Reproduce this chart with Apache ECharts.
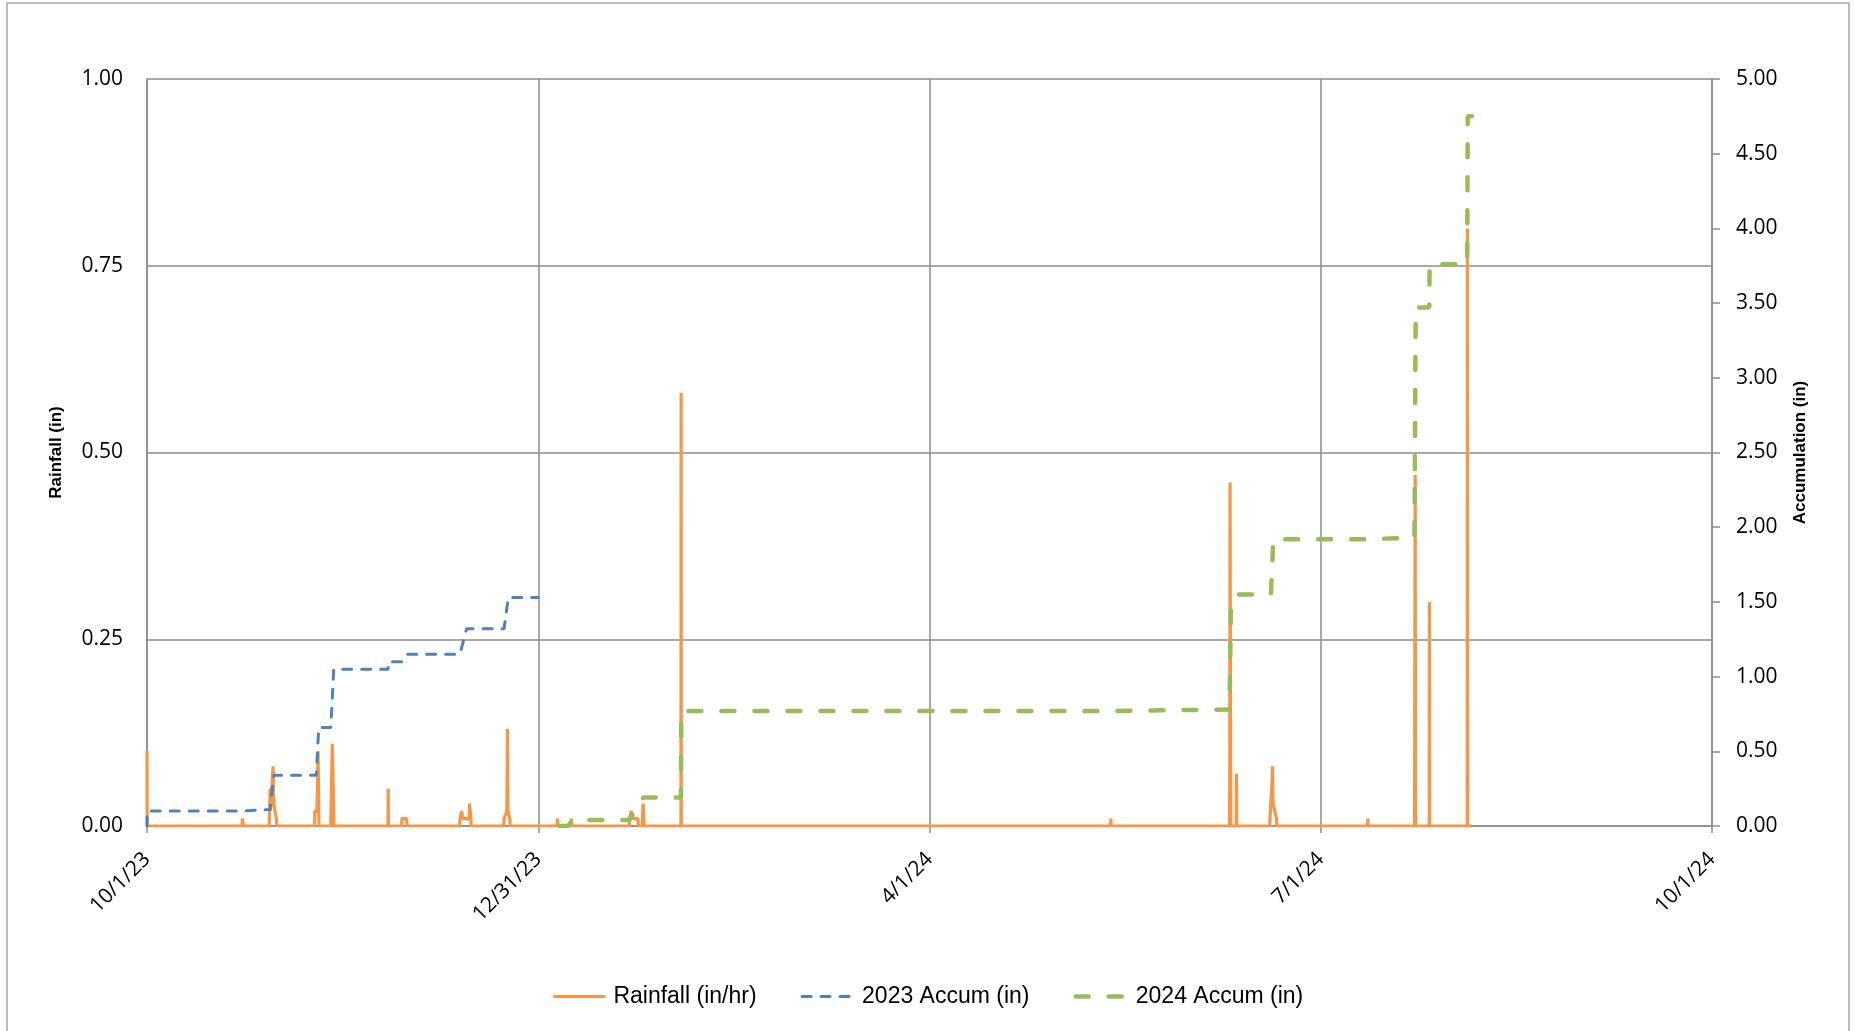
<!DOCTYPE html>
<html>
<head>
<meta charset="utf-8">
<title>Rainfall and Accumulation</title>
<script src="https://cdn.jsdelivr.net/npm/echarts@6/dist/echarts.min.js"></script>
<style>
  html, body { margin: 0; padding: 0; background: #ffffff; }
  #chart { width: 1855px; height: 1031px; }
</style>
</head>
<body>
<div id="chart"></div>
<script>
// Hourly rainfall readings (in/hr); dry spells are bounded by zero readings.
const rainfall = [
  ['2023-10-01 00:00', 0.10], ['2023-10-01 01:00', 0],
  ['2023-10-23 06:00', 0], ['2023-10-23 07:00', 0.01], ['2023-10-23 14:00', 0.01], ['2023-10-23 15:00', 0],
  ['2023-10-29 14:00', 0], ['2023-10-29 15:00', 0.01], ['2023-10-29 19:00', 0.05], ['2023-10-29 21:00', 0.02],
  ['2023-10-30 06:00', 0.02], ['2023-10-30 12:00', 0.08], ['2023-10-30 15:00', 0.03], ['2023-10-31 02:00', 0.03],
  ['2023-10-31 06:00', 0.01], ['2023-10-31 08:00', 0],
  ['2023-11-09 05:00', 0], ['2023-11-09 06:00', 0.02], ['2023-11-09 18:00', 0.02], ['2023-11-10 00:00', 0.10],
  ['2023-11-10 04:00', 0.02], ['2023-11-10 05:00', 0],
  ['2023-11-13 00:00', 0], ['2023-11-13 01:00', 0.02], ['2023-11-13 08:00', 0.11], ['2023-11-13 12:00', 0.07],
  ['2023-11-13 16:00', 0.02], ['2023-11-13 17:00', 0],
  ['2023-11-26 09:00', 0], ['2023-11-26 10:00', 0.05], ['2023-11-26 11:00', 0],
  ['2023-11-29 14:00', 0], ['2023-11-29 15:00', 0.01], ['2023-11-30 18:00', 0.01], ['2023-11-30 19:00', 0],
  ['2023-12-13 04:00', 0], ['2023-12-13 05:00', 0.01], ['2023-12-13 14:00', 0.02], ['2023-12-13 20:00', 0.01],
  ['2023-12-15 08:00', 0.01], ['2023-12-15 10:00', 0.03], ['2023-12-15 18:00', 0.01], ['2023-12-15 19:00', 0],
  ['2023-12-23 11:00', 0], ['2023-12-23 12:00', 0.01], ['2023-12-24 04:00', 0.02], ['2023-12-24 07:00', 0.13],
  ['2023-12-24 10:00', 0.02], ['2023-12-24 21:00', 0.01], ['2023-12-24 22:00', 0],
  ['2024-01-04 22:00', 0], ['2024-01-04 23:00', 0.01], ['2024-01-05 03:00', 0.01], ['2024-01-05 04:00', 0],
  ['2024-01-08 05:00', 0], ['2024-01-08 06:00', 0.01], ['2024-01-08 09:00', 0.01], ['2024-01-08 10:00', 0],
  ['2024-01-21 19:00', 0], ['2024-01-21 20:00', 0.01], ['2024-01-22 06:00', 0.02], ['2024-01-22 18:00', 0.01],
  ['2024-01-23 20:00', 0.01], ['2024-01-23 21:00', 0],
  ['2024-01-24 20:00', 0], ['2024-01-24 21:00', 0.01], ['2024-01-25 01:00', 0.03], ['2024-01-25 04:00', 0.01],
  ['2024-01-25 05:00', 0],
  ['2024-02-02 21:00', 0], ['2024-02-02 22:00', 0.58], ['2024-02-02 23:00', 0],
  ['2024-05-13 09:00', 0], ['2024-05-13 10:00', 0.01], ['2024-05-13 11:00', 0],
  ['2024-06-10 04:00', 0], ['2024-06-10 05:00', 0.05], ['2024-06-10 07:00', 0.46], ['2024-06-10 09:00', 0.20],
  ['2024-06-10 11:00', 0.04], ['2024-06-10 12:00', 0],
  ['2024-06-11 18:00', 0], ['2024-06-11 19:00', 0.07], ['2024-06-11 20:00', 0],
  ['2024-06-19 14:00', 0], ['2024-06-19 15:00', 0.01], ['2024-06-20 03:00', 0.06], ['2024-06-20 05:00', 0.08],
  ['2024-06-20 08:00', 0.03], ['2024-06-21 04:00', 0.01], ['2024-06-21 05:00', 0],
  ['2024-07-12 11:00', 0], ['2024-07-12 12:00', 0.01], ['2024-07-12 13:00', 0],
  ['2024-07-23 10:00', 0], ['2024-07-23 11:00', 0.05], ['2024-07-23 14:00', 0.47], ['2024-07-23 16:00', 0.06],
  ['2024-07-23 17:00', 0],
  ['2024-07-26 21:00', 0], ['2024-07-26 22:00', 0.30], ['2024-07-26 23:00', 0],
  ['2024-08-04 18:00', 0], ['2024-08-04 19:00', 0.80], ['2024-08-04 20:00', 0.17], ['2024-08-04 21:00', 0],
  ['2024-08-05 20:00', 0]
];

// Running totals (in) for the 2023 and 2024 portions of the water year.
const accum2023 = [
  ['2023-10-01 00:00', 0.00], ['2023-10-01 01:00', 0.10],
  ['2023-10-23 06:00', 0.10], ['2023-10-23 15:00', 0.11],
  ['2023-10-29 18:00', 0.11], ['2023-10-30 16:00', 0.34],
  ['2023-11-09 14:00', 0.34], ['2023-11-10 04:00', 0.66],
  ['2023-11-13 00:00', 0.66], ['2023-11-13 16:00', 1.05],
  ['2023-11-26 09:00', 1.05], ['2023-11-26 11:00', 1.10],
  ['2023-11-29 14:00', 1.10], ['2023-11-30 19:00', 1.15],
  ['2023-12-13 04:00', 1.15], ['2023-12-14 18:00', 1.32],
  ['2023-12-23 12:00', 1.32], ['2023-12-24 12:00', 1.53],
  ['2023-12-31 12:00', 1.53]
];

const accum2024 = [
  ['2024-01-01 00:00', 0.00], ['2024-01-07 12:00', 0.00], ['2024-01-08 12:00', 0.04],
  ['2024-01-21 20:00', 0.04], ['2024-01-23 21:00', 0.14], ['2024-01-25 01:00', 0.19],
  ['2024-02-02 21:00', 0.19], ['2024-02-02 23:00', 0.77],
  ['2024-05-13 09:00', 0.77], ['2024-05-13 11:00', 0.78],
  ['2024-06-10 04:00', 0.78], ['2024-06-10 12:00', 1.48], ['2024-06-11 19:00', 1.55],
  ['2024-06-19 20:00', 1.55], ['2024-06-20 10:00', 1.92],
  ['2024-07-12 11:00', 1.92], ['2024-07-12 13:00', 1.93],
  ['2024-07-23 10:00', 1.93], ['2024-07-23 17:00', 3.47],
  ['2024-07-26 21:00', 3.47], ['2024-07-26 23:00', 3.76],
  ['2024-08-04 18:00', 3.76], ['2024-08-04 21:00', 4.75], ['2024-08-05 20:00', 4.75]
];

const seriesNames = ['Rainfall (in/hr)', '2023 Accum (in)', '2024 Accum (in)'];
const axisTitles = ['Rainfall (in)', 'Accumulation (in)'];

// Date axis: days counted from 10/1/23, ticks every 91.5 days through 10/1/24.
const startDay = Date.UTC(2023, 9, 1);
const DAY = 86400000;
const dayRange = { min: 0, max: 366, interval: 91.5 };
const rainRange = { min: 0, max: 1, interval: 0.25 };
const accumRange = { min: 0, max: 5, interval: 0.5 };

function toDay(s) {
  const [d, t] = s.split(' ');
  const [y, m, dd] = d.split('-').map(Number);
  const [hh, mm] = t.split(':').map(Number);
  return (Date.UTC(y, m - 1, dd, hh, mm) - startDay) / DAY;
}
function toPoints(rows) {
  return rows.map(([s, v]) => [toDay(s), v]);
}
function dayLabel(v) {
  const dt = new Date(startDay + v * DAY);
  return (dt.getUTCMonth() + 1) + '/' + dt.getUTCDate() + '/' + String(dt.getUTCFullYear()).slice(2);
}

const gridGray = '#8c8c8c';
const tickFont = { fontFamily: 'Open Sans', fontSize: 21, color: '#000000' };

const chart = echarts.init(document.getElementById('chart'), null, { renderer: 'canvas' });
chart.setOption({
  animation: false,
  backgroundColor: '#ffffff',
  graphic: [{
    type: 'rect',
    shape: { x: 7, y: 3, width: 1842, height: 1040 },
    style: { fill: 'none', stroke: '#a6a6a6', lineWidth: 1.5 },
    silent: true
  }],
  grid: { left: 147, right: 143, top: 79, bottom: 205, containLabel: false },
  legend: {
    bottom: 18,
    left: 'center',
    itemWidth: 52,
    itemHeight: 12,
    itemGap: 44,
    itemStyle: { opacity: 0 },
    lineStyle: { width: 'inherit', type: 'inherit', cap: 'inherit', dashOffset: 0 },
    textStyle: { fontFamily: 'Liberation Sans', fontSize: 23, color: '#000000', padding: [0, 0, 0, 3] },
    data: seriesNames
  },
  xAxis: {
    type: 'value',
    min: dayRange.min, max: dayRange.max, interval: dayRange.interval,
    axisLine: { show: true, onZero: false, lineStyle: { color: gridGray, width: 1.5 } },
    axisTick: { show: true, inside: false, length: 7, lineStyle: { color: gridGray, width: 1.5 } },
    splitLine: { show: true, lineStyle: { color: gridGray, width: 1.5 } },
    axisLabel: Object.assign({ rotate: 45, margin: 30, formatter: dayLabel }, tickFont)
  },
  yAxis: [{
    type: 'value',
    position: 'left',
    min: rainRange.min, max: rainRange.max, interval: rainRange.interval,
    name: axisTitles[0],
    nameLocation: 'middle',
    nameRotate: 90,
    nameGap: 82,
    nameTextStyle: { fontFamily: 'Liberation Sans', fontWeight: 'bold', fontSize: 17, color: '#000000' },
    axisLine: { show: true, lineStyle: { color: gridGray, width: 1.5 } },
    axisTick: { show: false },
    splitLine: { show: true, lineStyle: { color: gridGray, width: 1.5 } },
    axisLabel: Object.assign({ margin: 24, formatter: v => v.toFixed(2) }, tickFont)
  }, {
    type: 'value',
    position: 'right',
    min: accumRange.min, max: accumRange.max, interval: accumRange.interval,
    name: axisTitles[1],
    nameLocation: 'middle',
    nameRotate: 90,
    nameGap: 80,
    nameTextStyle: { fontFamily: 'Liberation Sans', fontWeight: 'bold', fontSize: 17, color: '#000000' },
    axisLine: { show: true, lineStyle: { color: gridGray, width: 1.5 } },
    axisTick: { show: true, inside: false, length: 8, lineStyle: { color: gridGray, width: 1.5 } },
    splitLine: { show: false },
    axisLabel: Object.assign({ margin: 24, formatter: v => v.toFixed(2) }, tickFont)
  }],
  series: [{
    name: seriesNames[0],
    type: 'line',
    yAxisIndex: 0,
    symbol: 'none',
    data: toPoints(rainfall),
    lineStyle: { color: '#F79646', width: 3.2 },
    itemStyle: { color: '#F79646' }
  }, {
    name: seriesNames[1],
    type: 'line',
    yAxisIndex: 1,
    symbol: 'none',
    data: toPoints(accum2023),
    lineStyle: { color: '#4F81BD', width: 3, type: [9, 10], cap: 'round' },
    itemStyle: { color: '#4F81BD' }
  }, {
    name: seriesNames[2],
    type: 'line',
    yAxisIndex: 1,
    symbol: 'none',
    data: toPoints(accum2024),
    lineStyle: { color: '#9BBB59', width: 4.5, type: [13, 20], dashOffset: 14, cap: 'round' },
    itemStyle: { color: '#9BBB59' }
  }]
});
</script>
</body>
</html>
